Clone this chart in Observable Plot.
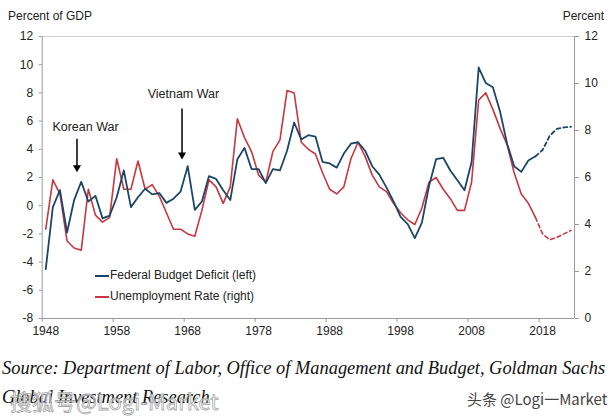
<!DOCTYPE html>
<html><head><meta charset="utf-8">
<script src="https://cdn.jsdelivr.net/npm/d3@7"></script>
<script src="https://cdn.jsdelivr.net/npm/@observablehq/plot@0.6"></script>
<style>
body{margin:0;background:#fff;}
#wrap{position:relative;width:610px;height:418px;overflow:hidden;font-family:"Liberation Sans",Arial,sans-serif;color:#222;}
#chart{position:absolute;left:0;top:0;}
.ttl{position:absolute;font-size:12px;line-height:14px;top:9px;}
#legend{position:absolute;left:95px;top:265px;font-size:12px;line-height:21px;}
#legend div{display:flex;align-items:center;}
#legend span.sw{display:inline-block;width:14px;height:0;border-top:2px solid;margin-right:1px;}
.src{position:absolute;left:2px;font-family:"Liberation Serif",serif;font-style:italic;font-size:18.4px;color:#111;white-space:nowrap;}
#wm1{position:absolute;left:10px;top:384px;font-family:"Noto Sans CJK SC",sans-serif;font-size:22px;color:rgba(255,255,255,0.75);-webkit-text-stroke:0.8px rgba(140,140,140,0.8);white-space:nowrap;}
#wm2{position:absolute;left:467px;top:388px;font-family:"Noto Sans CJK SC",sans-serif;font-size:15px;color:#444;white-space:nowrap;}
</style></head><body>
<div id="wrap">
  <div id="chart"></div>
  <div class="ttl" style="left:8px">Percent of GDP</div>
  <div class="ttl" style="right:6px">Percent</div>
  <div id="legend"></div>
  <div class="src" style="top:358px">Source: Department of Labor, Office of Management and Budget, Goldman Sachs</div>
  <div class="src" style="top:387px">Global Investment Research</div>
  <div id="wm1">搜狐号@Logi-Market</div>
  <div id="wm2">头条 @Logi一Market</div>
</div>
<script>
// Categories: fiscal years 1948–2022 (2017 onward = forecast, dashed)
const years = [
  1948,1949,1950,1951,1952,1953,1954,1955,1956,1957,
  1958,1959,1960,1961,1962,1963,1964,1965,1966,1967,
  1968,1969,1970,1971,1972,1973,1974,1975,1976,1977,
  1978,1979,1980,1981,1982,1983,1984,1985,1986,1987,
  1988,1989,1990,1991,1992,1993,1994,1995,1996,1997,
  1998,1999,2000,2001,2002,2003,2004,2005,2006,2007,
  2008,2009,2010,2011,2012,2013,2014,2015,2016,2017,
  2018,2019,2020,2021,2022];
// Federal budget deficit, % of GDP (left axis)
const deficit = [
  -4.5,-0.1,1.1,-1.9,0.4,1.7,0.3,0.7,-0.9,-0.7,
  0.6,2.5,-0.1,0.6,1.2,0.8,0.9,0.2,0.5,1.0,
  2.8,-0.3,0.3,2.1,1.9,1.1,0.4,3.3,4.1,2.6,
  2.6,1.6,2.6,2.5,3.9,5.9,4.7,5.0,4.9,3.1,
  3.0,2.7,3.7,4.4,4.5,3.9,2.8,2.2,1.3,0.3,
  -0.8,-1.3,-2.3,-1.2,1.4,3.3,3.4,2.5,1.8,1.1,
  3.1,9.8,8.7,8.4,6.7,4.4,2.8,2.4,3.2,3.5,
  3.95,4.95,5.45,5.55,5.6];
// Unemployment rate, % (right axis)
const unemployment = [
  3.8,5.9,5.3,3.3,3.0,2.9,5.5,4.4,4.1,4.3,
  6.8,5.5,5.5,6.7,5.5,5.7,5.2,4.5,3.8,3.8,
  3.6,3.5,4.6,5.9,5.6,4.9,5.6,8.5,7.7,7.1,
  6.1,5.8,7.1,7.6,9.7,9.6,7.5,7.2,7.0,6.2,
  5.5,5.3,5.6,6.8,7.5,6.9,6.1,5.6,5.4,4.9,
  4.5,4.2,4.0,4.7,5.8,6.0,5.5,5.1,4.6,4.6,
  5.8,9.3,9.6,8.9,8.1,7.4,6.2,5.3,4.9,4.3,
  3.6,3.35,3.45,3.6,3.75];
const forecastStart = 2017;
const xTickYears = [1948,1958,1968,1978,1988,1998,2008,2018];
const leftTicks = [-8,-6,-4,-2,0,2,4,6,8,10,12];
const rightTicks = [0,2,4,6,8,10,12];
const seriesNames = ["Federal Budget Deficit (left)", "Unemployment Rate (right)"];
const annotations = [
  {label: "Korean War", year: 1953},
  {label: "Vietnam War", year: 1968}
];

const BLUE = "#1b4668", RED = "#c8363f", AXIS = "#9a9a9a";
const leftDomain = [-8, 12], rightDomain = [0, 12];
const toLeft = r => leftDomain[0] + (r - rightDomain[0]) * (leftDomain[1] - leftDomain[0]) / (rightDomain[1] - rightDomain[0]);
const fromLeft = l => rightDomain[0] + (l - leftDomain[0]) * (rightDomain[1] - rightDomain[0]) / (leftDomain[1] - leftDomain[0]);

const rows = years.map((y, i) => ({year: y, deficit: deficit[i], unemp: toLeft(unemployment[i])}));
const hist = rows.filter(d => d.year <= forecastStart);
const fcst = rows.filter(d => d.year >= forecastStart);

// annotation geometry (data units)
const ann = [
  {label: annotations[0].label, tx: annotations[0].year + 0.6, ty: 5.6, ax: annotations[0].year - 0.6, a1: 4.75, a2: 2.7},
  {label: annotations[1].label, tx: annotations[1].year - 0.6, ty: 7.9, ax: annotations[1].year - 0.8, a1: 6.9, a2: 3.6}
];

const plot = Plot.plot({
  width: 610, height: 345,
  marginTop: 36, marginBottom: 27, marginLeft: 41.7, marginRight: 36,
  style: {fontFamily: "'Liberation Sans', Arial, sans-serif", fontSize: "12px", color: "#222", background: "transparent"},
  x: {domain: [years[0] - 0.5, years[years.length - 1] + 0.5], axis: null},
  y: {domain: leftDomain, axis: null},
  marks: [
    Plot.ruleY([leftDomain[1]], {stroke: "#cfcfcf", strokeWidth: 1}),
    Plot.ruleY([leftDomain[0]], {stroke: AXIS, strokeWidth: 1}),
    Plot.ruleX([years[0] - 0.5], {stroke: AXIS, strokeWidth: 1}),
    Plot.ruleX([years[years.length - 1] + 0.5], {stroke: AXIS, strokeWidth: 1}),
    Plot.axisX(xTickYears.map(d => d - 0.5), {anchor: "bottom", tickSize: 4, stroke: AXIS, tickFormat: () => "", label: null}),
    Plot.axisX(xTickYears, {anchor: "bottom", tickSize: 0, tickPadding: 8, tickFormat: d => String(d), label: null, fontSize: 12}),
    Plot.axisY(leftTicks, {anchor: "left", tickSize: 3, tickPadding: 6, stroke: AXIS, tickFormat: d => String(d), label: null, fontSize: 12}),
    Plot.axisY(rightTicks.map(toLeft), {anchor: "right", tickSize: 4, tickPadding: 6, stroke: AXIS, tickFormat: d => String(Math.round(fromLeft(d))), label: null, fontSize: 12}),
    Plot.line(hist, {x: "year", y: "unemp", stroke: RED, strokeWidth: 1.6}),
    Plot.line(fcst, {x: "year", y: "unemp", stroke: RED, strokeWidth: 1.6, strokeDasharray: "4,3"}),
    Plot.line(hist, {x: "year", y: "deficit", stroke: BLUE, strokeWidth: 1.8}),
    Plot.line(fcst, {x: "year", y: "deficit", stroke: BLUE, strokeWidth: 1.8, strokeDasharray: "4,3"}),
    Plot.text(ann, {x: "tx", y: "ty", text: "label", fill: "#222", fontSize: 12.5}),
    Plot.link(ann, {x1: "ax", x2: "ax", y1: "a1", y2: "a2", stroke: "#000", strokeWidth: 1.5}),
    Plot.dot(ann, {x: "ax", y: "a2", symbol: "triangle", rotate: 180, r: 3, fill: "#000", stroke: null})
  ]
});
document.getElementById("chart").appendChild(plot);

const legend = document.getElementById("legend");
[[seriesNames[0], BLUE], [seriesNames[1], RED]].forEach(([name, color]) => {
  const row = document.createElement("div");
  row.innerHTML = `<span class="sw" style="border-color:${color}"></span><span>${name}</span>`;
  legend.appendChild(row);
});
</script>
</body></html>
